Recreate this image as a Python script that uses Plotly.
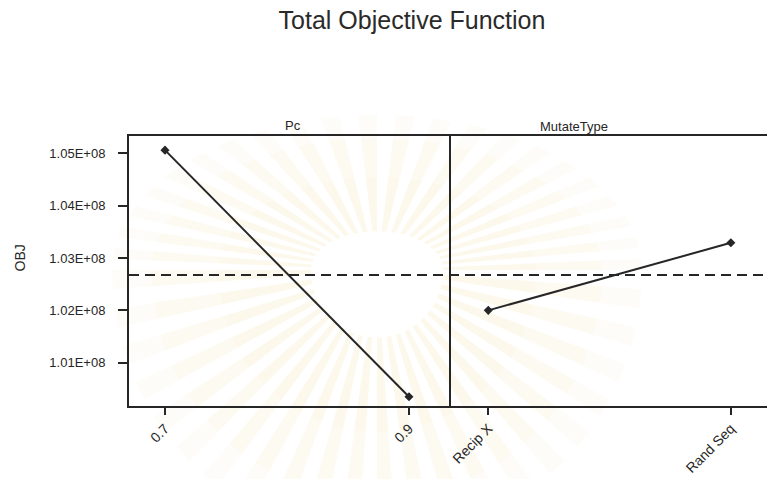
import math
import plotly.graph_objects as go

# Main effects of the two factors on the total objective function
pc_levels = [0.7, 0.9]
pc_means = [1.0506e8, 1.0035e8]

mutate_levels = ["Recip X", "Rand Seq"]
mutate_means = [1.0200e8, 1.0329e8]

y_tick_vals = [1.01e8, 1.02e8, 1.03e8, 1.04e8, 1.05e8]
y_tick_text = ["1.01E+08", "1.02E+08", "1.03E+08", "1.04E+08", "1.05E+08"]

grand_mean = sum(pc_means + mutate_means) / len(pc_means + mutate_means)

INK = "#262626"
FONT = "Liberation Sans, Arial, sans-serif"
PLOT_W, PLOT_H = 638, 270

fig = go.Figure()

for xs, ys, xa, ya in [(pc_levels, pc_means, "x", "y"),
                       (mutate_levels, mutate_means, "x2", "y2")]:
    fig.add_trace(go.Scatter(
        x=xs, y=ys, xaxis=xa, yaxis=ya,
        mode="lines+markers",
        line=dict(color=INK, width=2),
        marker=dict(symbol="diamond", size=7, color=INK),
        showlegend=False, hoverinfo="x+y",
    ))

# Faint sunburst emblem behind the panels (pixel offsets inside the plot area)
shapes = []
cx_px, cy_px = 377 - 129, 479 - 73 - 270
n_rays = 44


def ray_point(r_frac, ang):
    ry = 155 if math.sin(ang) > 0 else 270
    x = cx_px + r_frac * 265 * math.cos(ang)
    y = cy_px + r_frac * ry * math.sin(ang)
    return x / PLOT_W, y / PLOT_H


for i in range(n_rays):
    a0 = 2 * math.pi * i / n_rays
    a1 = a0 + 2 * math.pi / n_rays * 0.5
    for f0, f1, alpha in [(0.25, 0.6, 0.15), (0.6, 0.85, 0.10), (0.85, 1.0, 0.05)]:
        pts = [ray_point(f0, a0), ray_point(f1, a0), ray_point(f1, a1), ray_point(f0, a1)]
        path = "M " + " L ".join(f"{x:.4f},{y:.4f}" for x, y in pts) + " Z"
        shapes.append(dict(
            type="path", xref="paper", yref="paper", path=path,
            fillcolor=f"rgba(236,205,120,{alpha})", line=dict(width=0), layer="below",
        ))

# Grand mean reference line across both panels
shapes.append(dict(
    type="line", xref="paper", yref="y", x0=0, x1=1,
    y0=grand_mean, y1=grand_mean,
    line=dict(color=INK, width=2, dash="10px,6px"),
))

y_range = [1.00173e8, 1.0533e8]
split = 320 / PLOT_W

fig.update_layout(
    width=767, height=479,
    margin=dict(l=129, r=0, t=136, b=73),
    paper_bgcolor="white", plot_bgcolor="rgba(0,0,0,0)",
    font=dict(family=FONT, color=INK, size=12),
    title=dict(
        text="Total Objective Function", x=412 / 767, xanchor="center",
        y=1 - 20 / 479, yanchor="middle", font=dict(size=25, color="#2a2a2a", family=FONT),
    ),
    xaxis=dict(
        domain=[0, split], range=[0.6705, 0.9328],
        tickvals=pc_levels, ticktext=[str(v) for v in pc_levels],
        tickangle=-45, showgrid=False, zeroline=False,
        showline=True, mirror=True, linecolor=INK, linewidth=2,
        ticks="outside", ticklen=7, tickwidth=2, tickcolor=INK,
        tickfont=dict(size=14),
    ),
    yaxis=dict(
        range=y_range, anchor="x", mirror=True,
        showgrid=False, zeroline=False,
        showline=True, linecolor=INK, linewidth=2,
        ticks="outside", ticklen=9, tickwidth=2, tickcolor=INK,
        tickvals=y_tick_vals, ticktext=y_tick_text,
        tickfont=dict(size=13), ticklabelstandoff=10,
    ),
    xaxis2=dict(
        domain=[split, 1], range=[-0.162, 1.149],
        type="category", tickangle=-45, showgrid=False, zeroline=False,
        showline=True, mirror=True, linecolor=INK, linewidth=2,
        ticks="outside", ticklen=7, tickwidth=2, tickcolor=INK,
        tickfont=dict(size=14),
    ),
    yaxis2=dict(
        range=y_range, anchor="x2", showgrid=False, zeroline=False,
        showline=False, showticklabels=False, ticks="",
    ),
    shapes=shapes,
    annotations=[
        dict(text="OBJ", xref="paper", yref="paper", x=-110 / PLOT_W, y=0.55,
             xanchor="center", yanchor="middle", textangle=-90,
             showarrow=False, font=dict(size=14)),
        dict(text="Pc", xref="paper", yref="paper", x=(283 - 129) / PLOT_W,
             y=1.0, yanchor="bottom", yshift=1, showarrow=False, font=dict(size=13)),
        dict(text="MutateType", xref="paper", yref="paper", x=(610 - 129) / PLOT_W,
             y=1.0, yanchor="bottom", showarrow=False, font=dict(size=13)),
    ],
)

fig.write_html("out.html")
